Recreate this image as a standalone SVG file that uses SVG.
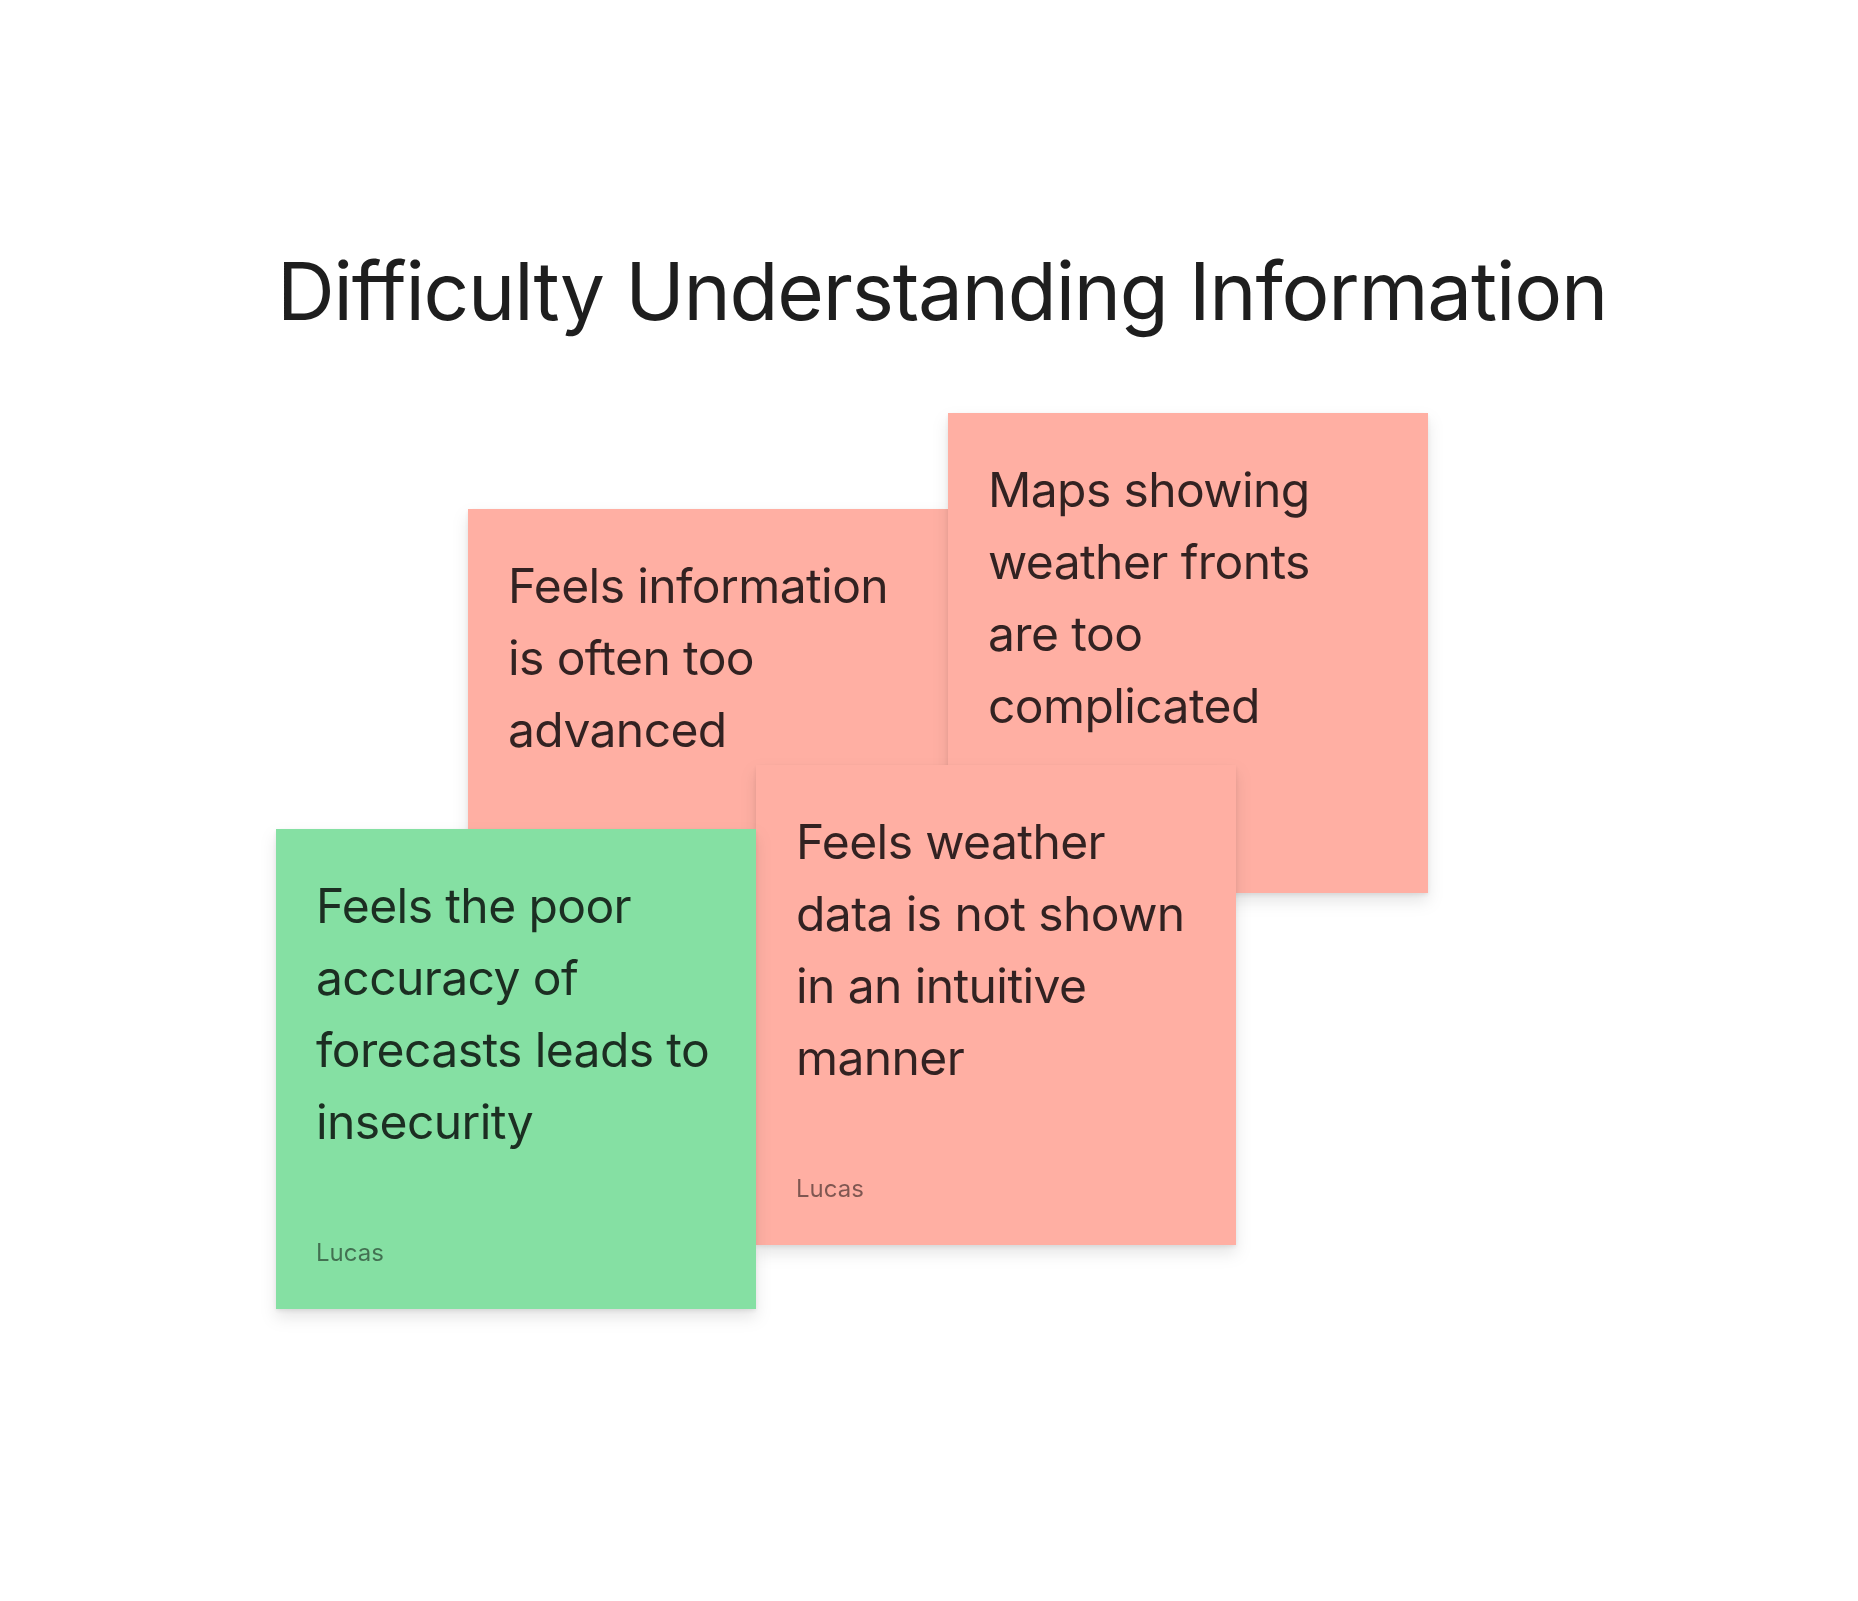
<svg xmlns="http://www.w3.org/2000/svg" width="1858" height="1601" viewBox="0 0 1858 1601">
  <style>
    .title { font-family: Inter, "Noto Sans", sans-serif; font-size: 80px; letter-spacing: -1.2px; fill: #1e1e1e; }
    .body { font-family: Inter, "Noto Sans", sans-serif; font-size: 48px; letter-spacing: -0.6px; fill: #000; fill-opacity: 0.8; }
    .author { font-family: Inter, "Noto Sans", sans-serif; font-size: 24px; fill: #000; fill-opacity: 0.5; }
    .pink { fill: #ffafa3; }
    .green { fill: #85e0a3; }
  </style>
  <defs>
    <filter id="shadow" x="-10%" y="-10%" width="120%" height="125%">
      <feDropShadow dx="0" dy="2" stdDeviation="2" flood-color="#000" flood-opacity="0.08"/>
      <feDropShadow dx="0" dy="8" stdDeviation="8" flood-color="#000" flood-opacity="0.1"/>
    </filter>
  </defs>
  <rect width="1858" height="1601" fill="#ffffff"/>
  <text class="title" x="277" y="320">Difficulty Understanding Information</text>

  <g id="note-a" filter="url(#shadow)">
    <rect class="pink" x="468" y="509" width="480" height="480"/>
    <text class="body" x="508" y="603">Feels information</text>
    <text class="body" x="508" y="675">is often too</text>
    <text class="body" x="508" y="747">advanced</text>
  </g>
  <g id="note-b" filter="url(#shadow)">
    <rect class="pink" x="948" y="413" width="480" height="480"/>
    <text class="body" x="988" y="507">Maps showing</text>
    <text class="body" x="988" y="579">weather fronts</text>
    <text class="body" x="988" y="651">are too</text>
    <text class="body" x="988" y="723">complicated</text>
  </g>
  <g id="note-c" filter="url(#shadow)">
    <rect class="pink" x="756" y="765" width="480" height="480"/>
    <text class="body" x="796" y="859">Feels weather</text>
    <text class="body" x="796" y="931">data is not shown</text>
    <text class="body" x="796" y="1003">in an intuitive</text>
    <text class="body" x="796" y="1075">manner</text>
    <text class="author" x="796" y="1197">Lucas</text>
  </g>
  <g id="note-d" filter="url(#shadow)">
    <rect class="green" x="276" y="829" width="480" height="480"/>
    <text class="body" x="316" y="923">Feels the poor</text>
    <text class="body" x="316" y="995">accuracy of</text>
    <text class="body" x="316" y="1067">forecasts leads to</text>
    <text class="body" x="316" y="1139">insecurity</text>
    <text class="author" x="316" y="1261">Lucas</text>
  </g>
  <g id="connectors"/>
</svg>
